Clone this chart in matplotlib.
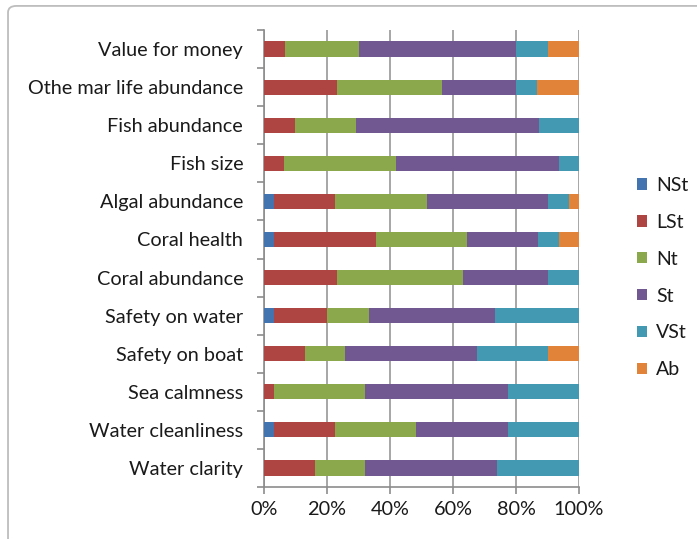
import matplotlib
matplotlib.use("Agg")
import matplotlib.pyplot as plt
from matplotlib.patches import FancyBboxPatch
from matplotlib.ticker import FixedLocator, PercentFormatter
import numpy as np

plt.rcParams["font.family"] = ["Lato", "DejaVu Sans"]

# attributes, listed bottom to top
attributes = [
    "Water clarity", "Water cleanliness", "Sea calmness", "Safety on boat",
    "Safety on water", "Coral abundance", "Coral health", "Algal abundance",
    "Fish size", "Fish abundance", "Othe mar life abundance", "Value for money",
]
levels = ["NSt", "LSt", "Nt", "St", "VSt", "Ab"]

# share of responses per level (%)
nst = [0.0, 3.2, 0.0, 0.0, 3.3, 0.0, 3.2, 3.2, 0.0, 0.0, 0.0, 0.0]
lst = [16.1, 19.4, 3.2, 12.9, 16.7, 23.3, 32.3, 19.4, 6.5, 9.7, 23.3, 6.7]
nt = [16.1, 25.8, 29.0, 12.9, 13.3, 40.0, 29.0, 29.0, 35.5, 19.4, 33.3, 23.3]
st = [41.9, 29.0, 45.2, 41.9, 40.0, 26.7, 22.6, 38.7, 51.6, 58.1, 23.3, 50.0]
vst = [25.8, 22.6, 22.6, 22.6, 26.7, 10.0, 6.5, 6.5, 6.5, 12.9, 6.7, 10.0]
ab = [0.0, 0.0, 0.0, 9.7, 0.0, 0.0, 6.5, 3.2, 0.0, 0.0, 13.3, 10.0]

colors = ["#4474B0", "#AE4543", "#8CA84D", "#725891", "#4399B2", "#E1843A"]

fig = plt.figure(figsize=(6.97, 5.39), dpi=100)
# chart frame, only its top-left corner is inside the image
fig.patches.append(FancyBboxPatch((0.0115, -0.2), 1.2, 1.189,
                                  boxstyle="round,pad=0,rounding_size=0.012",
                                  transform=fig.transFigure, facecolor="none",
                                  edgecolor="#BDBDBD", linewidth=1.3))

ax = fig.add_axes([0.3788, 0.0965, 0.4519, 0.8478])

y = np.arange(len(attributes))
left = np.zeros(len(attributes))
for name, vals, col in zip(levels, [nst, lst, nt, st, vst, ab], colors):
    vals = np.array(vals)
    ax.barh(y, vals, left=left, height=0.4, color=col, label=name, zorder=3)
    left += vals

ax.set_xlim(0, 100)
ax.set_ylim(-0.5, len(attributes) - 0.5)
ax.set_xticks(np.arange(0, 101, 20))
ax.xaxis.set_major_formatter(PercentFormatter(decimals=0))
ax.grid(axis="x", color="#A6A6A6", linewidth=1.4, zorder=0)

ax.set_yticks(y)
ax.set_yticklabels(attributes, color="#1A1A1A")
ax.yaxis.set_minor_locator(FixedLocator(np.arange(-0.5, len(attributes), 1)))
ax.tick_params(axis="y", which="major", length=0, pad=15, labelsize=14.3)
ax.tick_params(axis="y", which="minor", length=5, width=1.2, color="#8C8C8C")
ax.tick_params(axis="x", length=5, width=1.2, color="#8C8C8C", labelsize=14.3,
               pad=5, labelcolor="#1A1A1A")

for side in ["top", "right"]:
    ax.spines[side].set_visible(False)
for side in ["left", "bottom"]:
    ax.spines[side].set_color("#8C8C8C")
    ax.spines[side].set_linewidth(1.2)

handles, labels = ax.get_legend_handles_labels()
leg = fig.legend(handles, labels, loc="center left", bbox_to_anchor=(0.889, 0.485),
                 frameon=False, fontsize=14, handlelength=0.52, handleheight=0.52,
                 handletextpad=0.46, labelspacing=1.02)
for t in leg.get_texts():
    t.set_color("#1A1A1A")

fig.savefig("out.png", dpi=100)
